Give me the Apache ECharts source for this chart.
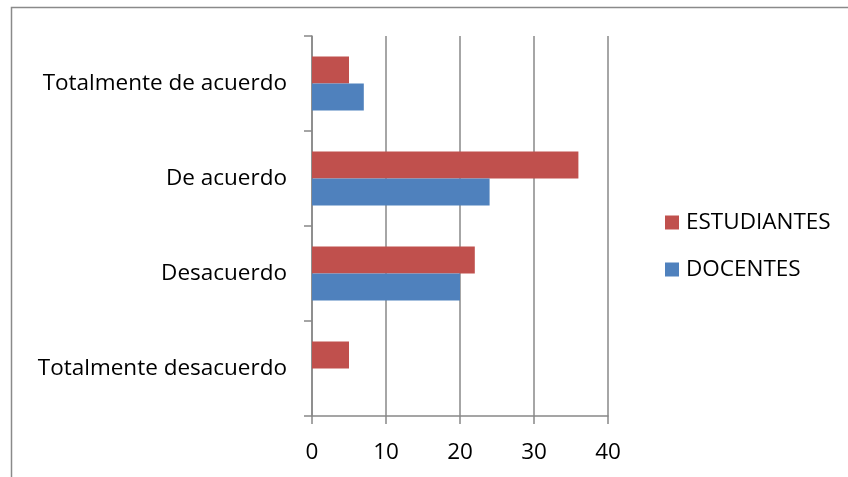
<!DOCTYPE html>
<html>
<head>
<meta charset="utf-8">
<script src="https://cdn.jsdelivr.net/npm/echarts@6/dist/echarts.min.js"></script>
<style>html,body{margin:0;padding:0;background:#fff}#c{width:848px;height:477px}</style>
</head>
<body>
<div id="c"></div>
<script>
var categories = ['Totalmente desacuerdo', 'Desacuerdo', 'De acuerdo', 'Totalmente de acuerdo'];
var estudiantes = [5, 22, 36, 5];
var docentes = [0, 20, 24, 7];
var xTicks = [0, 10, 20, 30, 40];

var chart = echarts.init(document.getElementById('c'));
var font = 'Open Sans';
chart.setOption({
  animation: false,
  textStyle: { fontFamily: font },
  graphic: [{
    type: 'rect',
    shape: { x: 11.5, y: 7.5, width: 900, height: 600 },
    style: { fill: 'none', stroke: '#8a8a8a', lineWidth: 1.5 },
    silent: true
  }],
  legend: {
    orient: 'vertical',
    left: 660,
    top: 206,
    itemWidth: 14,
    itemHeight: 14,
    itemGap: 24,
    icon: 'rect',
    data: ['ESTUDIANTES', 'DOCENTES'],
    textStyle: { fontFamily: font, fontSize: 22.5, color: '#000', padding: [0, 0, 0, 2] }
  },
  grid: { left: 312, right: 240, top: 36, bottom: 61, containLabel: false },
  xAxis: {
    type: 'value',
    min: xTicks[0],
    max: xTicks[xTicks.length - 1],
    interval: 10,
    axisLine: { show: true, lineStyle: { color: '#888', width: 1.5 } },
    axisTick: { show: true, length: 8, inside: false, lineStyle: { color: '#888', width: 1.5 } },
    splitLine: { show: true, lineStyle: { color: '#888', width: 1.5 } },
    axisLabel: { fontFamily: font, fontSize: 22.5, color: '#000', margin: 25 }
  },
  yAxis: {
    type: 'category',
    data: categories,
    axisLine: { show: true, lineStyle: { color: '#888', width: 1.5 } },
    axisTick: { show: true, length: 8, lineStyle: { color: '#888', width: 1.5 } },
    axisLabel: { fontFamily: font, fontSize: 22.5, color: '#000', margin: 25, padding: [4, 0, 0, 0] }
  },
  series: [
    { name: 'ESTUDIANTES', type: 'bar', data: estudiantes, itemStyle: { color: '#C0504D' }, barGap: '0%', barCategoryGap: '43%' },
    { name: 'DOCENTES', type: 'bar', data: docentes, itemStyle: { color: '#4F81BD' }, barGap: '0%', barCategoryGap: '43%' }
  ]
});
</script>
</body>
</html>
